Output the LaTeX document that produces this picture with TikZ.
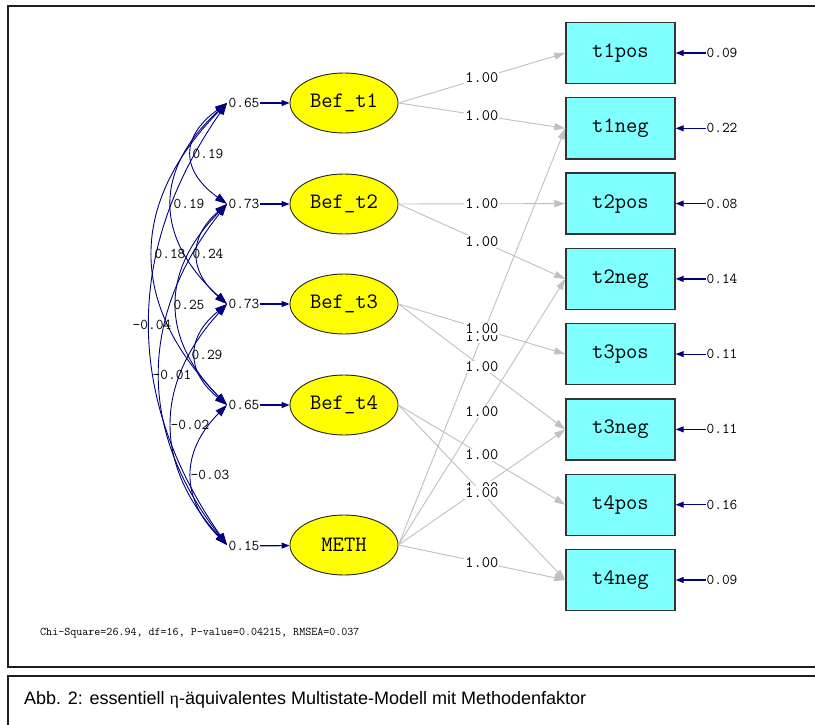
\documentclass[tikz,border=0pt]{standalone}
\usepackage{fontspec}
\setmainfont{Liberation Sans}
\newfontfamily\monof{Latin Modern Mono}
\newfontfamily\grk{Liberation Serif}
\usetikzlibrary{shapes.geometric,arrows.meta}
\definecolor{navy}{RGB}{0,0,128}
\definecolor{latfill}{RGB}{255,255,0}
\definecolor{obsfill}{RGB}{128,255,255}
\definecolor{pathgray}{RGB}{192,192,192}
\definecolor{framec}{RGB}{30,30,30}
\begin{document}
\begin{tikzpicture}[x=1pt,y=-1pt,
 latent/.style={ellipse,draw=black!85,line width=0.9pt,fill=latfill,minimum width=108pt,minimum height=60pt,inner sep=0pt,font=\monof\fontsize{22}{22}\selectfont},
 observed/.style={rectangle,draw=black!80,line width=1.4pt,fill=obsfill,minimum width=109pt,minimum height=61pt,inner sep=0pt,font=\monof\fontsize{22}{22}\selectfont},
 num/.style={font=\monof\fontsize{15}{15}\selectfont,inner sep=0.5pt},
 pathlbl/.style={font=\monof\fontsize{16}{16}\selectfont,fill=white,inner sep=1pt},
 loading/.style={draw=pathgray,line width=0.9pt,-{Triangle[length=11pt,width=7pt]}},
 cov/.style={draw=navy,line width=0.9pt,{Triangle[length=12pt,width=8pt]}-{Triangle[length=12pt,width=8pt]}},
 varr/.style={draw=navy,line width=1.2pt,-{Triangle[length=8pt,width=6pt]}},
 frameline/.style={draw=framec,line width=2pt},
]
\clip (0,0) rectangle (815,725);
\fill[white] (0,0) rectangle (815,725);
% frames
\draw[frameline] (8,6) rectangle (830,667);
\draw[frameline] (8,676) rectangle (830,740);

% latent variables
\node[latent] (B1) at (344,103) {Bef\_t1};
\node[latent] (B2) at (344,204) {Bef\_t2};
\node[latent] (B3) at (344,304) {Bef\_t3};
\node[latent] (B4) at (344,405) {Bef\_t4};
\node[latent] (M)  at (344,545) {METH};

% observed variables
\node[observed] (o1) at (620.5,53)    {t1pos};
\node[observed] (o2) at (620.5,128.3) {t1neg};
\node[observed] (o3) at (620.5,203.6) {t2pos};
\node[observed] (o4) at (620.5,278.9) {t2neg};
\node[observed] (o5) at (620.5,354.1) {t3pos};
\node[observed] (o6) at (620.5,429.4) {t3neg};
\node[observed] (o7) at (620.5,504.7) {t4pos};
\node[observed] (o8) at (620.5,580)   {t4neg};

% loadings
\draw[loading] (B1.east) -- node[pathlbl]{1.00} (o1.west);
\draw[loading] (B1.east) -- node[pathlbl]{1.00} (o2.west);
\draw[loading] (B2.east) -- node[pathlbl]{1.00} (o3.west);
\draw[loading] (B2.east) -- node[pathlbl]{1.00} (o4.west);
\draw[loading] (M.east) -- node[pathlbl]{1.00} (o2.west);
\draw[loading] (B3.east) -- node[pathlbl]{1.00} (o5.west);
\draw[loading] (B3.east) -- node[pathlbl]{1.00} (o6.west);
\draw[loading] (M.east) -- node[pathlbl]{1.00} (o4.west);
\draw[loading] (B4.east) -- node[pathlbl]{1.00} (o7.west);
\draw[loading] (M.east) -- node[pathlbl]{1.00} (o6.west);
\draw[loading] (B4.east) -- node[pathlbl]{1.00} (o8.west);
\draw[loading] (M.east) -- node[pathlbl]{1.00} (o8.west);

% error variances of observed
\node[num] (e1) at (722,53)    {0.09};
\node[num] (e2) at (722,128.3) {0.22};
\node[num] (e3) at (722,203.6) {0.08};
\node[num] (e4) at (722,278.9) {0.14};
\node[num] (e5) at (722,354.1) {0.11};
\node[num] (e6) at (722,429.4) {0.11};
\node[num] (e7) at (722,504.7) {0.16};
\node[num] (e8) at (722,580)   {0.09};
\foreach \k in {1,...,8}{\draw[varr] (e\k) -- (o\k);}

% variances of latents
\node[num] (v1) at (244,103) {0.65};
\node[num] (v2) at (244,204) {0.73};
\node[num] (v3) at (244,304) {0.73};
\node[num] (v4) at (244,405) {0.65};
\node[num] (v5) at (244,546) {0.15};
\draw[varr] (v1) -- (B1);
\draw[varr] (v2) -- (B2);
\draw[varr] (v3) -- (B3);
\draw[varr] (v4) -- (B4);
\draw[varr] (v5) -- (M);

% covariance arcs
\coordinate (c1) at (227,103);
\coordinate (c2) at (227,204);
\coordinate (c3) at (227,304);
\coordinate (c4) at (227,405);
\coordinate (c5) at (227,545);
\foreach \i/\j/\ya/\yb/\b in {1/2/103/204/35, 1/3/103/304/55, 1/4/103/405/74, 1/5/103/545/77, 2/3/204/304/29, 2/4/204/405/50, 2/5/204/545/67, 3/4/304/405/31, 3/5/304/545/55, 4/5/405/545/35}{
  \pgfmathsetmacro\cx{227-4/3*\b}
  \pgfmathsetmacro\qa{\ya+(\yb-\ya)/3}
  \pgfmathsetmacro\qb{\yb-(\yb-\ya)/3}
  \draw[cov] (c\i) .. controls (\cx,\qa) and (\cx,\qb) .. (c\j);
}
\node[num] (k12) at (208,154) {0.19};
\node[num] (k13) at (189,204) {0.19};
\node[num] (k14) at (170,254) {0.18};
\node[num] (k23) at (208,254) {0.24};
\node[num] (k24) at (189,305) {0.25};
\node[num] (k34) at (207,355) {0.29};
\node[num] (k15) at (152,325) {-0.04};
\node[num] (k25) at (172,375) {-0.01};
\node[num] (k35) at (190,425) {-0.02};
\node[num] (k45) at (210,475) {-0.03};

% fit statistics
\node[anchor=west,inner sep=0,font=\monof\fontsize{11.7}{12}\selectfont] (chi) at (40,633) {Chi-Square=26.94, df=16, P-value=0.04215, RMSEA=0.037};

% caption
\node[anchor=west,inner sep=0,font=\fontsize{18}{18}\selectfont] (cap) at (24,700) {Abb. 2: essentiell {\grk η}-äquivalentes Multistate-Modell mit Methodenfaktor};
\end{tikzpicture}
\end{document}
